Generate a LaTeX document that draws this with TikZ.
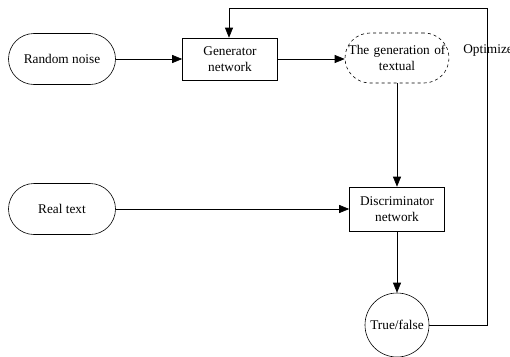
\documentclass[tikz,border=0pt]{standalone}
\usepackage{fontspec}
\setmainfont{Liberation Serif}
\usetikzlibrary{arrows.meta}
\begin{document}
\begin{tikzpicture}[x=1pt,y=-1pt,
  every node/.style={font=\fontsize{13.3}{15.5}\selectfont},
  stadium/.style={draw, rectangle, rounded corners=25.5pt, minimum width=107pt, minimum height=51pt, inner sep=0pt, align=center},
  procbox/.style={draw, rectangle, inner sep=0pt, align=center},
  arr/.style={-{Triangle[length=10pt,width=8pt]}},
  line width=0.6pt]
\useasboundingbox (0,0) rectangle (510,356);
\node[stadium] (noise) at (62,59) {Random noise};
\node[procbox, minimum width=95pt, minimum height=42pt] (gen) at (230,59) {Generator\\network};
\node[stadium, dashed, minimum width=104pt, minimum height=50pt, rounded corners=25pt, text width=100pt] (text) at (397,58) {The generation of\\textual};
\node[stadium] (real) at (62,209) {Real text};
\node[procbox, minimum width=95pt, minimum height=44pt] (disc) at (397,209) {Discriminator\\network};
\node[draw, circle, minimum size=64pt, inner sep=0pt] (tf) at (397,325) {True/false};
\node[anchor=west, inner sep=0pt] (opt) at (463,51) {Optimize};
\coordinate (c1) at (487,325);
\coordinate (c2) at (487,8);
\coordinate (c3) at (229,8);
\draw[arr] (noise.east) -- (gen.west);
\draw[arr] (gen.east) -- (gen.east -| text.west);
\draw[arr] (text.south) -- (disc.north);
\draw[arr] (real.east) -- (real.east -| disc.west);
\draw[arr] (disc.south) -- (tf.north);
\draw[arr] (tf.east) -- (c1) -- (c2) -- (c3) -- (c3 |- gen.north);
\end{tikzpicture}
\end{document}
